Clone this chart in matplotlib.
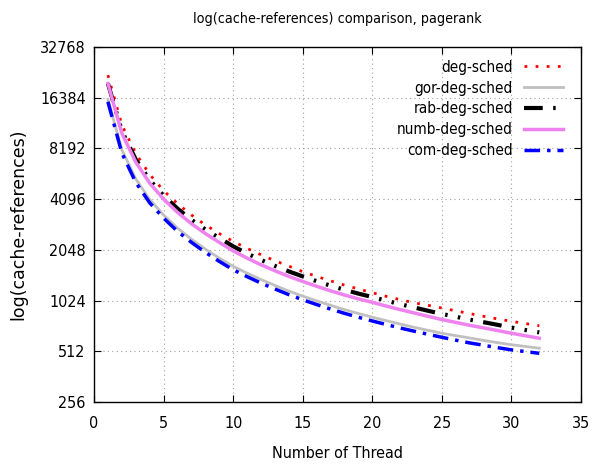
import numpy as np
import matplotlib
matplotlib.use("Agg")
import matplotlib.pyplot as plt
from matplotlib.ticker import FixedLocator, NullLocator

plt.rcParams["font.family"] = ["DejaVu Sans"]
plt.rcParams["font.stretch"] = "condensed"

threads = list(range(1, 33))

deg_sched = [22300, 11300, 7650, 5750, 4600, 3850, 3300, 2880, 2560, 2300, 2090, 1915,
             1765, 1640, 1520, 1425, 1340, 1265, 1200, 1140, 1085, 1037, 993, 960,
             925, 890, 857, 826, 797, 771, 748, 726]
gor_deg_sched = [16000, 8050, 5400, 4080, 3300, 2760, 2370, 2070, 1830, 1635, 1490, 1365,
                 1260, 1165, 1088, 1020, 960, 905, 858, 816, 778, 743, 711, 682,
                 655, 634, 614, 594, 576, 560, 547, 534]
rab_deg_sched = [19900, 10400, 7050, 5330, 4300, 3600, 3090, 2710, 2410, 2150, 1950, 1785,
                 1645, 1525, 1425, 1335, 1255, 1187, 1126, 1075, 1023, 975, 932, 891,
                 853, 821, 789, 762, 735, 708, 685, 663]
numb_deg_sched = [19900, 10100, 6800, 5100, 4100, 3420, 2930, 2560, 2270, 2020, 1830, 1670,
                  1540, 1425, 1330, 1245, 1170, 1105, 1048, 1000, 950, 905, 865, 826,
                  790, 760, 730, 705, 680, 655, 633, 612]
com_deg_sched = [15500, 7700, 5150, 3900, 3160, 2640, 2270, 1980, 1750, 1560, 1420, 1300,
                 1200, 1110, 1035, 970, 912, 860, 815, 775, 738, 704, 674, 646,
                 620, 596, 574, 556, 538, 522, 510, 498]

y_ticks = [256, 512, 1024, 2048, 4096, 8192, 16384, 32768]
x_ticks = [0, 5, 10, 15, 20, 25, 30, 35]

fig = plt.figure(figsize=(5.92, 4.69), dpi=100)
ax = fig.add_axes([94 / 592, 1 - 402 / 469, (581 - 94) / 592, (402 - 47) / 469])

ax.plot(threads, deg_sched, color="#ff0000", lw=2, linestyle=(0, (1, 3)), label="deg-sched")
ax.plot(threads, gor_deg_sched, color="#c0c0c0", lw=2, label="gor-deg-sched")
ax.plot(threads, rab_deg_sched, color="black", lw=3,
        linestyle=(0, (4.5, 2.5, 0.6, 2.5, 0.6, 2.5, 0.6, 2.5)), label="rab-deg-sched")
ax.plot(threads, numb_deg_sched, color="#ee82ee", lw=2.5, label="numb-deg-sched")
ax.plot(threads, com_deg_sched, color="#0000ff", lw=2.5,
        linestyle=(0, (4.5, 2, 1, 2)), label="com-deg-sched")

ax.set_yscale("log", base=2)
ax.set_ylim(256, 32768)
ax.set_xlim(0, 35)
ax.yaxis.set_major_locator(FixedLocator(y_ticks))
ax.yaxis.set_minor_locator(NullLocator())
ax.set_yticks(y_ticks)
ax.set_yticklabels([str(v) for v in y_ticks])
ax.set_xticks(x_ticks)

ax.tick_params(direction="in", top=True, right=True, length=5, labelsize=11.5)
ax.tick_params(axis="x", pad=10)
ax.tick_params(axis="y", pad=6)
ax.grid(True, color="#a0a0a0", linestyle=(0, (1, 3)), lw=0.8)
for s in ax.spines.values():
    s.set_linewidth(1)

ax.set_title("log(cache-references) comparison, pagerank", fontsize=10.3, pad=17)
ax.set_xlabel("Number of Thread", fontsize=11.5, labelpad=11)
ax.set_ylabel("log(cache-references)", fontsize=12.5, fontstretch="normal", labelpad=9)

leg = ax.legend(loc="upper right", bbox_to_anchor=(1 - 7 / 487, 1 - 2 / 355),
                frameon=False, markerfirst=False, fontsize=11,
                handlelength=2.6, labelspacing=0.38, borderaxespad=0.3, handletextpad=0.7)

fig.savefig("out.png", dpi=100)
